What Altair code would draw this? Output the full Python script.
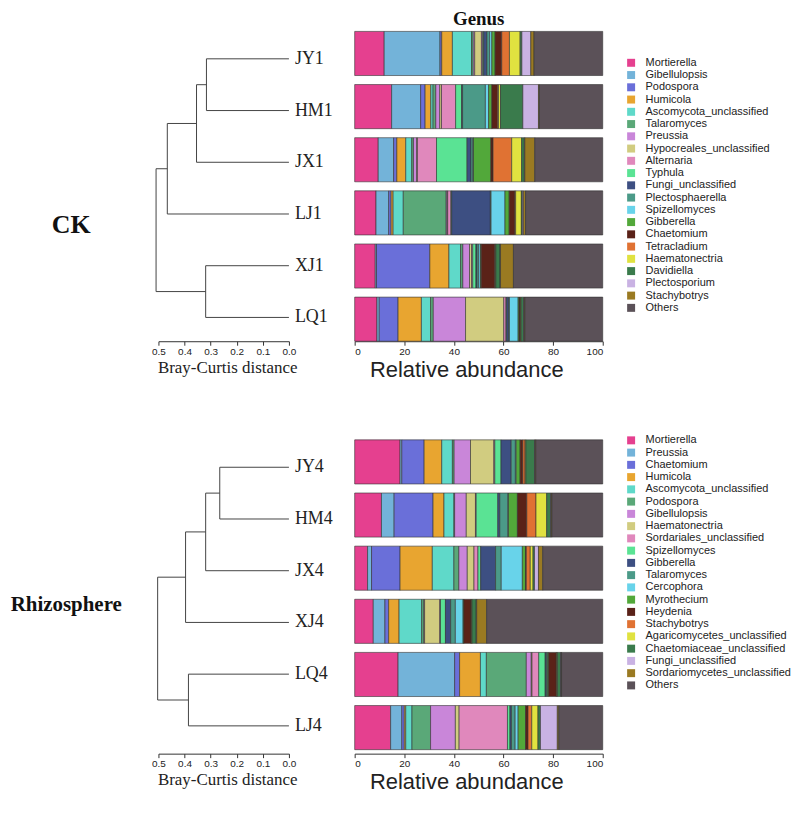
import altair as alt
import pandas as pd

# ---------------- data ----------------
ck_samples = ["JY1", "HM1", "JX1", "LJ1", "XJ1", "LQ1"]
ck_genera = ["Mortierella", "Gibellulopsis", "Podospora", "Humicola", "Ascomycota_unclassified",
             "Talaromyces", "Preussia", "Hypocreales_unclassified", "Alternaria", "Typhula",
             "Fungi_unclassified", "Plectosphaerella", "Spizellomyces", "Gibberella", "Chaetomium",
             "Tetracladium", "Haematonectria", "Davidiella", "Plectosporium", "Stachybotrys", "Others"]
ck_JY1 = [11.9, 22.5, 0.7, 4.3, 7.7, 0.7, 0.6, 2.7, 0.5, 0.4, 1.3, 1.1, 0.9, 1.3, 2.7, 3.1, 4.3, 0.7, 3.6, 1.3, 27.7]
ck_HM1 = [14.9, 11.7, 1.8, 2.3, 0.9, 1.1, 1.6, 0.7, 5.7, 2.4, 0.4, 9.2, 1.3, 1.3, 2.3, 0.4, 0.8, 9.0, 6.3, 0.4, 25.5]
ck_JX1 = [9.5, 6.2, 1.3, 3.6, 2.4, 0.7, 1.3, 0.3, 7.7, 12.3, 1.6, 0.7, 0.3, 7.0, 0.9, 7.5, 4.0, 1.1, 0.2, 4.0, 27.4]
ck_LJ1 = [8.6, 5.1, 1.0, 0.8, 4.1, 17.3, 0.4, 0.2, 1.3, 0.3, 15.6, 0.3, 5.6, 1.7, 2.3, 0.3, 2.3, 0.4, 0.4, 0.9, 31.1]
ck_XJ1 = [8.3, 0.5, 21.5, 7.7, 4.7, 0.9, 2.7, 0.8, 0.5, 1.3, 0.4, 0.7, 0.7, 0.3, 5.5, 0.2, 0.2, 1.7, 0.2, 5.2, 36.0]
ck_LQ1 = [9.0, 0.9, 7.6, 9.4, 3.7, 1.1, 13.0, 15.4, 0.9, 0.3, 0.8, 0.3, 3.5, 0.4, 0.4, 0.2, 0.2, 1.0, 0.2, 0.3, 31.4]
ck_values = [ck_JY1, ck_HM1, ck_JX1, ck_LJ1, ck_XJ1, ck_LQ1]
# dendrogram merges: (child a, child b, Bray-Curtis height); ints refer to earlier merges (1-based)
ck_merges = [("JY1", "HM1", 0.316), (1, "JX1", 0.354), ("XJ1", "LQ1", 0.319),
             (2, "LJ1", 0.466), (4, 3, 0.509)]

rh_samples = ["JY4", "HM4", "JX4", "XJ4", "LQ4", "LJ4"]
rh_genera = ["Mortierella", "Preussia", "Chaetomium", "Humicola", "Ascomycota_unclassified",
             "Podospora", "Gibellulopsis", "Haematonectria", "Sordariales_unclassified", "Spizellomyces",
             "Gibberella", "Talaromyces", "Cercophora", "Myrothecium", "Heydenia", "Stachybotrys",
             "Agaricomycetes_unclassified", "Chaetomiaceae_unclassified", "Fungi_unclassified",
             "Sordariomycetes_unclassified", "Others"]
rh_JY4 = [18.3, 0.7, 9.0, 7.1, 4.3, 0.7, 6.6, 9.4, 0.4, 2.5, 4.1, 1.7, 0.3, 1.6, 1.1, 0.9, 0.3, 3.5, 0.2, 0.3, 27.0]
rh_HM4 = [10.8, 5.1, 15.7, 4.4, 4.0, 0.3, 4.7, 3.7, 0.3, 8.7, 0.8, 3.2, 0.3, 3.6, 3.8, 3.7, 4.3, 1.6, 0.2, 0.3, 20.5]
rh_JX4 = [5.2, 1.6, 11.5, 13.0, 8.7, 2.0, 3.4, 2.7, 1.6, 1.1, 6.0, 2.3, 8.5, 1.3, 0.3, 1.6, 1.1, 0.6, 1.6, 1.7, 24.2]
rh_XJ4 = [7.5, 4.7, 1.5, 4.2, 9.1, 0.9, 0.3, 6.1, 0.3, 2.0, 2.1, 1.9, 3.1, 0.3, 2.9, 0.2, 0.2, 1.7, 0.2, 4.0, 46.8]
rh_LQ4 = [17.5, 22.8, 2.0, 8.4, 2.4, 16.1, 2.0, 0.3, 2.7, 2.6, 0.3, 0.3, 0.3, 0.5, 3.1, 0.2, 0.2, 1.3, 0.2, 0.2, 16.6]
rh_LJ4 = [14.5, 4.5, 1.0, 0.6, 2.5, 7.5, 10.0, 1.5, 19.5, 1.0, 0.6, 1.5, 1.2, 3.0, 1.0, 1.5, 2.5, 1.0, 6.8, 0.6, 17.7]
rh_values = [rh_JY4, rh_HM4, rh_JX4, rh_XJ4, rh_LQ4, rh_LJ4]
rh_merges = [("JY4", "HM4", 0.265), (1, "JX4", 0.319), (2, "XJ4", 0.396),
             ("LQ4", "LJ4", 0.385), (3, 4, 0.503)]

palette = ["#E5408F", "#73B3D9", "#6A6FD9", "#E8A530", "#5FD9C9", "#5AA878", "#C986D9",
           "#D1CC80", "#E088BC", "#5AE394", "#3D4F82", "#4B9A88", "#68D3EA", "#52A83A",
           "#5A2218", "#E07233", "#E0E240", "#3A7B4C", "#C9B2E3", "#9A7A22", "#5B5158"]

dist_ticks = [0.5, 0.4, 0.3, 0.2, 0.1, 0.0]
abund_ticks = [0, 20, 40, 60, 80, 100]

SERIF = "Liberation Serif"
SANS = "Liberation Sans"


def stack_df(samples, genera, values):
    recs = []
    for s, vals in zip(samples, values):
        for gi, (g, v) in enumerate(zip(genera, vals)):
            recs.append({"sample": s, "genus": g, "gi": gi, "value": v})
    return pd.DataFrame(recs)


def dendro_df(leaves, merges):
    pos = {name: (i, 0.0) for i, name in enumerate(leaves)}
    segs = []
    for k, (a, b, h) in enumerate(merges, start=1):
        ya, ha = pos[a]
        yb, hb = pos[b]
        segs.append({"x": ha, "x2": h, "y": ya, "y2": ya})
        segs.append({"x": hb, "x2": h, "y": yb, "y2": yb})
        segs.append({"x": h, "x2": h, "y": ya, "y2": yb})
        pos[k] = ((ya + yb) / 2.0, h)
    return pd.DataFrame(segs)


def dendro_chart(leaves, merges, group, group_size, title_y, title_pad, axis_offset):
    segs = dendro_df(leaves, merges)
    leaf_df = pd.DataFrame({"name": leaves, "i": list(range(len(leaves))), "h": [0.0] * len(leaves)})
    xs = alt.Scale(domain=[0, 0.5], reverse=True, nice=False, zero=False)
    ys = alt.Scale(domain=[-0.53, 5.46], reverse=True, nice=False, zero=False)
    xaxis = alt.Axis(values=dist_ticks, format=".1f", title="Bray-Curtis distance",
                     titleFont=SERIF, titleFontSize=17, titleFontWeight="normal", titleColor="#222",
                     titlePadding=3, titleX=69, labelFont=SANS, labelFontSize=10, labelColor="#222",
                     labelOverlap=False, labelFlush=False, tickSize=4, tickColor="#333",
                     domainColor="#333", grid=False, labelPadding=1, offset=axis_offset)
    yaxis = alt.Axis(title=group, titleAngle=0, titleFont=SERIF, titleFontWeight="bold",
                     titleFontSize=group_size, titleColor="#111", titleY=title_y,
                     titleBaseline="middle", titlePadding=title_pad, labels=False, ticks=False,
                     domain=False, grid=False)
    lines = alt.Chart(segs).mark_rule(color="#444", strokeWidth=1).encode(
        x=alt.X("x:Q", scale=xs, axis=xaxis),
        x2="x2:Q",
        y=alt.Y("y:Q", scale=ys, axis=yaxis),
        y2="y2:Q",
    )
    labels = alt.Chart(leaf_df).mark_text(align="left", baseline="middle", dx=6, font=SERIF,
                                          fontSize=18, color="#222").encode(
        x=alt.X("h:Q", scale=xs, axis=xaxis),
        y=alt.Y("i:Q", scale=ys, axis=yaxis),
        text="name:N",
    )
    return alt.layer(lines, labels).properties(width=131, height=311)


def bar_chart(samples, genera, values, legend_y, axis_offset, title=None):
    df = stack_df(samples, genera, values)
    props = dict(width=249, height=311)
    if title is not None:
        props["title"] = alt.Title(title, font=SERIF, fontSize=19, fontWeight="bold",
                                   anchor="middle", offset=2, color="#111")
    return alt.Chart(df).mark_bar(stroke="#333", strokeWidth=0.6).encode(
        x=alt.X("value:Q", stack="zero",
                scale=alt.Scale(domain=[0, 100], nice=False),
                axis=alt.Axis(values=abund_ticks, title="Relative abundance", titleFont=SANS,
                              titleFontSize=22, titleFontWeight="normal", titleColor="#222",
                              titlePadding=3, titleX=112, labelFont=SANS, labelFontSize=10,
                              labelColor="#222", tickSize=4, tickColor="#333", domainColor="#333",
                              grid=False, labelPadding=1, offset=axis_offset)),
        y=alt.Y("sample:N", sort=samples, axis=None,
                scale=alt.Scale(paddingInner=0.17, paddingOuter=0)),
        color=alt.Color("genus:N", scale=alt.Scale(domain=genera, range=palette),
                        legend=alt.Legend(orient="none", legendX=272, legendY=legend_y, title=None,
                                          symbolType="square", symbolSize=64, symbolStrokeWidth=0,
                                          labelFont=SANS, labelFontSize=11, labelColor="#222",
                                          rowPadding=0.3, labelLimit=300, labelOffset=9)),
        order=alt.Order("gi:Q", sort="ascending"),
        tooltip=["sample:N", "genus:N", "value:Q"],
    ).properties(**props)


d_top = dendro_chart(ck_samples, ck_merges, "CK", 26, 194, 88, 0)
b_top = bar_chart(ck_samples, ck_genera, ck_values, 26, 0, title="Genus")
d_bot = dendro_chart(rh_samples, rh_merges, "Rhizosphere", 21, 165, 93, 4)
b_bot = bar_chart(rh_samples, rh_genera, rh_values, -5, 4)

chart = alt.concat(d_top, b_top, d_bot, b_bot, columns=2,
                   spacing={"row": 99, "column": 66}, bounds="flush").resolve_scale(
    x="independent", y="independent", color="independent"
).resolve_legend(color="independent").properties(
    padding={"left": 2, "top": 0, "right": 0, "bottom": 0},
    background="white",
).configure_view(stroke="transparent", strokeWidth=0)

chart.save("out.html", embed_options={"renderer": "svg", "actions": False})
